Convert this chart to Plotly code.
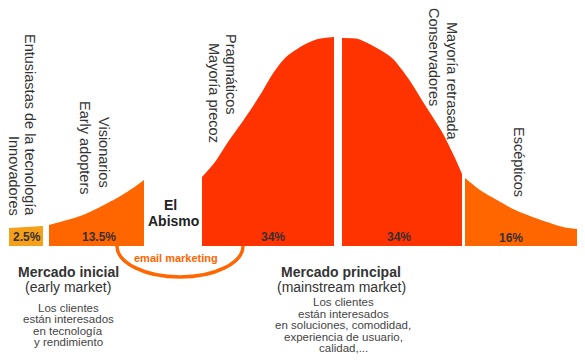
import plotly.graph_objects as go

# ---- data (x in px across, h = height of curve above baseline) ----
seg_pct = ["2.5%", "13.5%", "34%", "34%", "16%"]
seg_colors = ["#f5a01a", "#ff6600", "#ff3300", "#ff3300", "#ff6600"]
seg_x = [
    [9, 43],
    [49, 67, 83, 100, 117, 133, 144],
    [202, 215, 228, 245, 262, 272, 285, 302, 318, 334],
    [342, 358, 375, 392, 408, 425, 442, 455, 462],
    [465, 480, 497, 513, 530, 547, 563, 577],
]
seg_h = [
    [18, 20],
    [21, 26, 31, 39, 48, 58, 66],
    [69, 84, 104, 128, 154, 171, 188, 200, 207, 209],
    [208, 207, 199, 188, 168, 141, 114, 88, 72],
    [68, 56, 46, 37, 30, 24, 19, 17],
]
pct_x = [27, 99, 273, 399, 511]
pct_y = [9, 9, 9, 9, 8]

# rotated group labels: text, x centre, y centre
group_text = ["Entusiastas de la tecnología", "Innovadores", "Visionarios", "Early adopters",
              "Pragmáticos", "Mayoría precoz", "Conservadores", "Mayoría retrasada", "Escépticos"]
group_x = [30, 14, 104, 85, 231, 214, 434, 452, 519]
group_y = [121, 70, 94, 98, 172, 153, 189, 165, 84]

chasm_text = ["El", "Abismo"]
chasm_x = [170, 173]
chasm_y = [41, 25]

market_title = ["Mercado inicial", "Mercado principal"]
market_sub = ["(early market)", "(mainstream market)"]
market_x = [68, 341]
market_desc = [
    ["Los clientes", "están interesados", "en tecnología", "y rendimiento"],
    ["Los clientes", "están interesados", "en soluciones, comodidad,",
     "experiencia de usuario,", "calidad,..."],
]
market_desc_y0 = [-62, -56]
market_desc_step = [11.3, 11.6]

email_text = "email marketing"

BASE = 246  # baseline pixel row
FONT = "Liberation Sans, Arial, Helvetica, sans-serif"

fig = go.Figure()
for xs, hs, col in zip(seg_x, seg_h, seg_colors):
    fig.add_trace(go.Scatter(
        x=xs, y=hs, mode="lines", line=dict(width=0, shape="spline", smoothing=0.8, color=col),
        fill="tozeroy", fillcolor=col, hoverinfo="skip", showlegend=False))

ann = []
for t, x, y in zip(seg_pct, pct_x, pct_y):
    ann.append(dict(x=x, y=y, text="<b>%s</b>" % t, showarrow=False,
                    font=dict(family=FONT, size=12, color="#3a3030")))
for t, x, y in zip(group_text, group_x, group_y):
    ann.append(dict(x=x, y=y, text=t, textangle=90, showarrow=False,
                    font=dict(family=FONT, size=14.5, color="#333333")))
for t, x, y in zip(chasm_text, chasm_x, chasm_y):
    ann.append(dict(x=x, y=y, text="<b>%s</b>" % t, showarrow=False, borderpad=0,
                    font=dict(family=FONT, size=14, color="#222222")))
ann.append(dict(x=176, y=-12, text="<b>%s</b>" % email_text, showarrow=False,
                font=dict(family=FONT, size=11, color="#ff6600")))
for i in range(2):
    ann.append(dict(x=market_x[i], y=BASE - 272, text="<b>%s</b>" % market_title[i], showarrow=False,
                    font=dict(family=FONT, size=14, color="#333333")))
    ann.append(dict(x=market_x[i], y=BASE - 287, text=market_sub[i], showarrow=False,
                    font=dict(family=FONT, size=14, color="#333333")))
    for j, line in enumerate(market_desc[i]):
        ann.append(dict(x=market_x[i] + (0 if i == 0 else 2), y=market_desc_y0[i] - j * market_desc_step[i],
                        text=line, showarrow=False,
                        font=dict(family=FONT, size=11.5, color="#444444")))

# chasm arc (lower half ellipse)
cx, rx, ry, k = 180, 63, 31, 0.5523
path = ("M {a},0 C {a},{b1} {c1},{d} {cx},{d} C {c2},{d} {e},{b1} {e},0"
        .format(a=cx - rx, b1=-ry * k, c1=cx - rx * k, d=-ry, cx=cx, c2=cx + rx * k, e=cx + rx))

fig.update_layout(
    width=585, height=361, margin=dict(l=0, r=0, t=0, b=0),
    paper_bgcolor="white", plot_bgcolor="white",
    xaxis=dict(range=[0, 585], visible=False, fixedrange=True),
    yaxis=dict(range=[BASE - 361, BASE], visible=False, fixedrange=True),
    annotations=ann,
    shapes=[dict(type="path", path=path, xref="x", yref="y",
                 line=dict(color="#ff6600", width=3.5))],
)
fig.write_html("out.html", config={"displayModeBar": False},
               post_script="document.body.style.margin='0px';")
